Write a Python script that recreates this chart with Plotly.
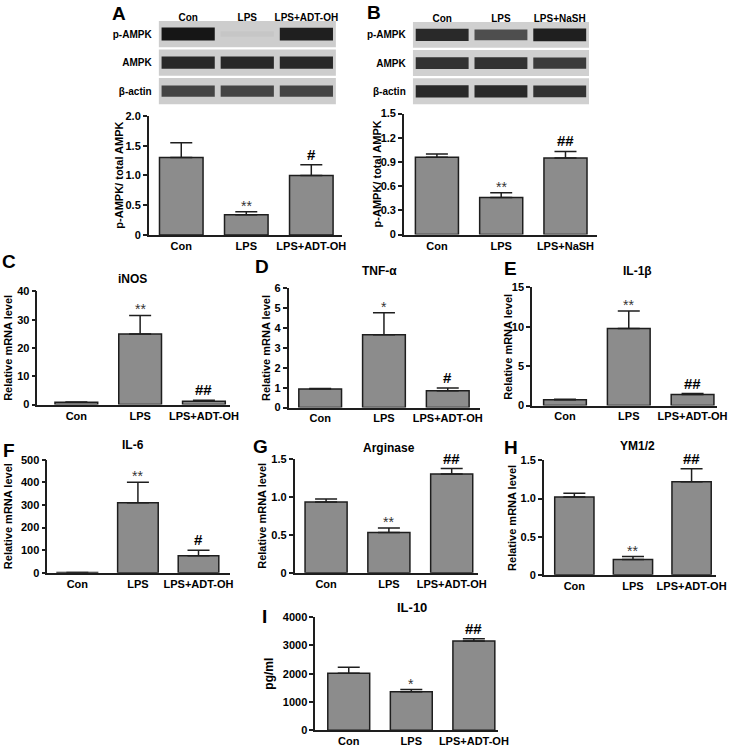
import plotly.graph_objects as go

W, H = 741, 755
FONT = "Liberation Sans, Arial, sans-serif"

# ---------------- data ----------------
groups_adt = ["Con", "LPS", "LPS+ADT-OH"]
groups_nash = ["Con", "LPS", "LPS+NaSH"]

blot_rows = ["β-actin", "AMPK", "p-AMPK"]
# band density per lane (0 = no band, 1 = strongest), bottom row first
blot_a = [[0.75, 0.75, 0.75], [0.9, 0.9, 0.9], [1.0, 0.04, 0.95]]
blot_b = [[0.9, 0.9, 0.85], [0.85, 0.85, 0.8], [0.9, 0.7, 0.95]]

pampk_adt = [1.30, 0.34, 1.00]
pampk_adt_sem = [0.25, 0.05, 0.18]
pampk_nash = [0.96, 0.46, 0.95]
pampk_nash_sem = [0.04, 0.06, 0.08]
inos = [0.8, 24.9, 1.2]
inos_sem = [0.1, 6.6, 0.3]
tnf = [0.93, 3.67, 0.84]
tnf_sem = [0.03, 1.1, 0.14]
il1b = [0.75, 9.8, 1.4]
il1b_sem = [0.05, 2.2, 0.12]
il6 = [1, 310, 75]
il6_sem = [0.5, 90, 25]
arginase = [0.93, 0.53, 1.30]
arginase_sem = [0.04, 0.06, 0.07]
ym12 = [1.02, 0.20, 1.22]
ym12_sem = [0.05, 0.04, 0.17]
il10 = [2020, 1360, 3160]
il10_sem = [210, 80, 80]

# ---------------- panels ----------------
# box = (x left, x right, y top, y bottom) in px, c0 = first bar centre px, sp = bar spacing px
panels = [
    dict(letter="A", title="", ytitle="p-AMPK/ total AMPK", groups=groups_adt,
         mean=pampk_adt, sem=pampk_adt_sem, sig=["", "**", "#"],
         ticks=[0, 0.5, 1.0, 1.5, 2.0], ticktext=["0", "0.5", "1.0", "1.5", "2.0"],
         box=(151, 347, 111.7, 232.7), c0=184, sp=66,
         letter_xy=(121, 8), title_xy=None, ytitle_x=121),
    dict(letter="B", title="", ytitle="p-AMPK/ total AMPK", groups=groups_nash,
         mean=pampk_nash, sem=pampk_nash_sem, sig=["", "**", "##"],
         ticks=[0, 0.3, 0.6, 0.9, 1.2, 1.5], ticktext=["0", "0.3", "0.6", "0.9", "1.2", "1.5"],
         box=(410, 606, 109.3, 232.3), c0=443.5, sp=65.25,
         letter_xy=(380, 7), title_xy=None, ytitle_x=383),
    dict(letter="C", title="iNOS", ytitle="Relative mRNA level", groups=groups_adt,
         mean=inos, sem=inos_sem, sig=["", "**", "##"],
         ticks=[0, 10, 20, 30, 40], ticktext=None,
         box=(38, 233, 290, 405), c0=77.5, sp=64.75,
         letter_xy=(9, 260), title_xy=(135, 277), ytitle_x=8),
    dict(letter="D", title="TNF-α", ytitle="Relative mRNA level", groups=groups_adt,
         mean=tnf, sem=tnf_sem, sig=["", "*", "#"],
         ticks=[0, 1, 2, 3, 4, 5, 6], ticktext=None,
         box=(293, 487, 287, 408), c0=325, sp=64.75,
         letter_xy=(266, 265), title_xy=(385, 269), ytitle_x=270),
    dict(letter="E", title="IL-1β", ytitle="Relative mRNA level", groups=groups_adt,
         mean=il1b, sem=il1b_sem, sig=["", "**", "##"],
         ticks=[0, 5, 10, 15], ticktext=None,
         box=(540, 728, 286, 406), c0=573.5, sp=64.75,
         letter_xy=(518, 267), title_xy=(647, 269), ytitle_x=515),
    dict(letter="F", title="IL-6", ytitle="Relative mRNA level", groups=groups_adt,
         mean=il6, sem=il6_sem, sig=["", "**", "#"],
         ticks=[0, 100, 200, 300, 400, 500], ticktext=None,
         box=(48, 233, 461, 576), c0=78.5, sp=61.5,
         letter_xy=(9, 452), title_xy=(135, 446), ytitle_x=8),
    dict(letter="G", title="Arginase", ytitle="Relative mRNA level", groups=groups_adt,
         mean=arginase, sem=arginase_sem, sig=["", "**", "##"],
         ticks=[0, 0.5, 1.0, 1.5], ticktext=["0", "0.5", "1.0", "1.5"],
         box=(299, 485, 460, 576), c0=331, sp=63.75,
         letter_xy=(264, 448), title_xy=(395, 449), ytitle_x=266),
    dict(letter="H", title="YM1/2", ytitle="Relative mRNA level", groups=groups_adt,
         mean=ym12, sem=ym12_sem, sig=["", "**", "##"],
         ticks=[0, 0.5, 1.0, 1.5], ticktext=["0", "0.5", "1.0", "1.5"],
         box=(552, 727, 461.7, 578), c0=583, sp=59.5,
         letter_xy=(519, 449), title_xy=(647, 447), ytitle_x=519),
    dict(letter="I", title="IL-10", ytitle="pg/ml", groups=groups_adt,
         mean=il10, sem=il10_sem, sig=["", "*", "##"],
         ticks=[0, 1000, 2000, 3000, 4000], ticktext=None,
         box=(320, 505, 621, 736), c0=354, sp=63.5,
         letter_xy=(268, 620), title_xy=(418, 611), ytitle_x=273),
]


def px(x):
    return x / W


def py(y):
    return 1 - y / H


fig = go.Figure()
layout_axes = {}
annotations = []
bold = dict(family=FONT, color="black", weight="bold")

for i, p in enumerate(panels, start=1):
    sfx = "" if i == 1 else str(i)
    xa, ya = "x" + sfx, "y" + sfx
    x0, x1, yt, yb = p["box"]
    c0, sp = p["c0"], p["sp"]

    fig.add_trace(go.Bar(
        x=[0, 1, 2], y=p["mean"], width=0.67, xaxis=xa, yaxis=ya,
        marker=dict(color="#8c8c8c", line=dict(color="#1e1e1e", width=1.5)),
        error_y=dict(type="data", symmetric=False, array=p["sem"], arrayminus=[0, 0, 0],
                     color="#1e1e1e", thickness=1.5, width=11),
        showlegend=False, hoverinfo="skip"))

    layout_axes["xaxis" + sfx] = dict(
        domain=[px(x0), px(x1)], range=[(x0 - c0) / sp, (x1 - c0) / sp], anchor=ya,
        tickvals=[0, 1, 2], ticktext=p["groups"], ticks="", showline=True,
        linecolor="#1e1e1e", linewidth=1.5, showgrid=False, zeroline=False,
        tickfont=dict(size=11, **bold))
    layout_axes["yaxis" + sfx] = dict(
        domain=[py(yb), py(yt)], range=[0, p["ticks"][-1]], anchor=xa,
        tickvals=p["ticks"], ticktext=p["ticktext"] or [str(t) for t in p["ticks"]],
        ticks="outside", ticklen=4, tickwidth=1.5, tickcolor="#1e1e1e",
        showline=True, linecolor="#1e1e1e", linewidth=1.5, showgrid=False,
        zeroline=False, tickfont=dict(size=11, **bold))

    for j, s in enumerate(p["sig"]):
        if not s:
            continue
        star = s.startswith("*")
        annotations.append(dict(
            x=j, y=p["mean"][j] + p["sem"][j], xref=xa, yref=ya, text=s,
            showarrow=False, yanchor="bottom", yshift=-4 if star else 0,
            font=dict(family=FONT, size=14 if star else 15,
                      color="#333" if star else "black",
                      weight="normal" if star else "bold")))

    annotations.append(dict(
        x=px(p["letter_xy"][0]), y=py(p["letter_xy"][1]), xref="paper", yref="paper",
        text=p["letter"], showarrow=False, xanchor="center", yanchor="middle",
        font=dict(size=19, **bold)))
    if p["title_xy"]:
        annotations.append(dict(
            x=px(p["title_xy"][0]), y=py(p["title_xy"][1]), xref="paper", yref="paper",
            text=p["title"], showarrow=False, xanchor="center", yanchor="middle",
            font=dict(size=13 if p["letter"] == "I" else 12, **bold)))
    annotations.append(dict(
        x=px(p["ytitle_x"]), y=py((yt + yb) / 2), xref="paper", yref="paper",
        text=p["ytitle"], textangle=-90, showarrow=False, xanchor="center",
        yanchor="middle", font=dict(size=12 if p["letter"] == "I" else 11, **bold)))

# ---------------- western blots ----------------
blots = [
    dict(data=blot_a, groups=groups_adt, box=(161, 341, 14, 101), bg="#cdcdcd"),
    dict(data=blot_b, groups=groups_nash, box=(419, 598, 15, 101), bg="#d0d0d0"),
]
for k, b in enumerate(blots, start=len(panels) + 1):
    sfx = str(k)
    xa, ya = "x" + sfx, "y" + sfx
    x0, x1, yt, yb = b["box"]
    rows = list(range(len(blot_rows)))
    fig.add_trace(go.Bar(
        x=[1] * len(rows), y=[0.92] * len(rows), base=[r - 0.46 for r in rows],
        width=3, xaxis=xa, yaxis=ya, marker=dict(color=b["bg"], line=dict(width=0)),
        showlegend=False, hoverinfo="skip"))
    for r, dens in enumerate(b["data"]):
        hgt = [0.18 + 0.28 * d for d in dens]
        fig.add_trace(go.Bar(
            x=[0, 1, 2], y=hgt, base=[r - h / 2 for h in hgt], width=0.9,
            xaxis=xa, yaxis=ya,
            marker=dict(color=dens, colorscale=[[0, b["bg"]], [1, "#161616"]],
                        cmin=0, cmax=1, line=dict(width=0)),
            showlegend=False, hoverinfo="skip"))
    layout_axes["xaxis" + sfx] = dict(
        domain=[px(x0), px(x1)], range=[-0.5, 2.5], anchor=ya, side="top",
        tickvals=[0, 1, 2], ticktext=b["groups"], ticks="", showline=False,
        showgrid=False, zeroline=False, ticklabelstandoff=-4,
        tickfont=dict(size=10, **bold))
    layout_axes["yaxis" + sfx] = dict(
        domain=[py(yb), py(yt)], range=[-0.5, 2.5], anchor=xa,
        tickvals=rows, ticktext=blot_rows, ticks="", showline=False,
        showgrid=False, zeroline=False, ticklabelstandoff=6,
        tickfont=dict(size=10, **bold))

fig.update_layout(
    width=W, height=H, margin=dict(l=0, r=0, t=0, b=0),
    paper_bgcolor="white", plot_bgcolor="white", barmode="overlay",
    font=dict(family=FONT, color="black"),
    annotations=annotations, **layout_axes)

# drop the default 8px page margin so the figure sits at the window origin
fig.write_html("out.html", config={"displayModeBar": False},
               post_script="document.body.style.margin='0';document.body.style.overflow='hidden';")
